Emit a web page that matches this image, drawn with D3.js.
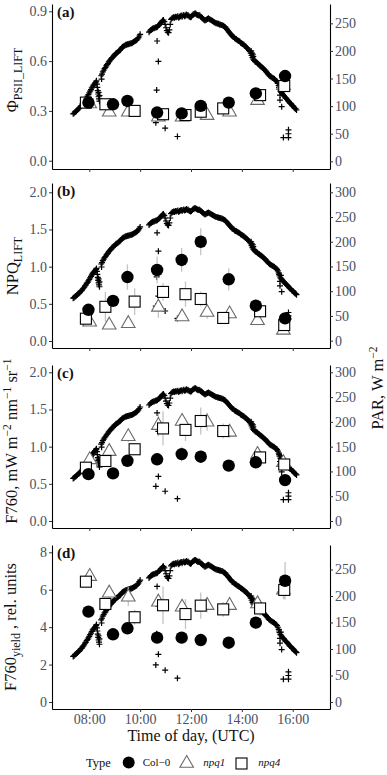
<!DOCTYPE html>
<html>
<head>
<meta charset="utf-8">
<script src="https://cdn.jsdelivr.net/npm/d3@7"></script>
<style>
  body { margin: 0; background: #fff; }
  svg { display: block; font-family: "Liberation Serif", "Times New Roman", serif; }
</style>
</head>
<body>
<div id="chart"></div>
<script>
// ---- data ----
// measurement times for each genotype (UTC)
const timesCol0 = ["07:58", "08:56", "09:30", "10:40", "11:38", "12:23", "13:29", "14:33", "15:42"];
const timesNpq1 = ["08:01", "08:47", "09:32", "10:43", "11:39", "12:38", "13:31", "14:37", "15:38"];
const timesNpq4 = ["07:52", "08:38", "09:47", "10:54", "11:47", "12:23", "13:16", "14:43", "15:40"];

// (a) PhiPSII_LIFT
const phiCol0 = [0.35, 0.34, 0.36, 0.29, 0.285, 0.33, 0.35, 0.405, 0.51];
const phiNpq1 = [0.345, 0.295, 0.295, 0.265, 0.265, 0.275, 0.295, 0.365, 0.455];
const phiNpq4 = [0.35, 0.34, 0.30, 0.28, 0.275, 0.295, 0.315, 0.395, 0.45];
const phiSdCol0 = [0.01, 0.01, 0.01, 0.02, 0.01, 0.02, 0.02, 0.02, 0.03];
const phiSdNpq1 = [0.01, 0.01, 0.01, 0.02, 0.01, 0.01, 0.01, 0.02, 0.02];
const phiSdNpq4 = [0.01, 0.01, 0.01, 0.02, 0.01, 0.01, 0.01, 0.02, 0.02];

// (b) NPQ_LIFT
const npqCol0 = [0.42, 0.54, 0.86, 0.955, 1.09, 1.335, 0.83, 0.475, 0.305];
const npqNpq1 = [0.26, 0.22, 0.24, 0.46, 0.33, 0.39, 0.37, 0.28, 0.15];
const npqNpq4 = [0.30, 0.46, 0.53, 0.66, 0.63, 0.565, 0.31, 0.40, 0.215];
const npqSdCol0 = [0.03, 0.07, 0.17, 0.18, 0.16, 0.18, 0.15, 0.08, 0.07];
const npqSdNpq1 = [0.04, 0.04, 0.04, 0.15, 0.06, 0.09, 0.07, 0.05, 0.04];
const npqSdNpq4 = [0.05, 0.20, 0.18, 0.12, 0.17, 0.10, 0.05, 0.08, 0.06];

// (c) F760
const f760Col0 = [0.63, 0.64, 0.81, 0.83, 0.90, 0.865, 0.745, 0.79, 0.55];
const f760Npq1 = [0.83, 0.94, 1.14, 1.29, 1.345, 1.335, 1.20, 0.90, 0.79];
const f760Npq4 = [0.717, 0.807, 0.965, 1.245, 1.225, 1.345, 1.21, 0.855, 0.76];
const f760SdCol0 = [0.03, 0.03, 0.04, 0.05, 0.10, 0.05, 0.05, 0.04, 0.05];
const f760SdNpq1 = [0.05, 0.05, 0.08, 0.15, 0.10, 0.12, 0.08, 0.10, 0.07];
const f760SdNpq4 = [0.04, 0.05, 0.06, 0.23, 0.15, 0.18, 0.10, 0.06, 0.06];

// (d) F760 yield
const yieldCol0 = [4.83, 3.62, 3.94, 3.44, 3.44, 3.31, 3.17, 4.24, 6.48];
const yieldNpq1 = [6.73, 5.84, 5.63, 5.36, 5.09, 5.18, 5.18, 5.27, 6.00];
const yieldNpq4 = [6.43, 5.24, 4.53, 5.17, 4.70, 5.15, 4.95, 5.00, 5.99];
const yieldSdCol0 = [0.20, 0.25, 0.25, 0.30, 0.30, 0.25, 0.25, 0.30, 1.00];
const yieldSdNpq1 = [0.30, 0.30, 0.50, 0.40, 0.40, 0.40, 0.40, 0.40, 0.50];
const yieldSdNpq4 = [0.30, 0.30, 0.40, 1.00, 0.80, 0.70, 0.40, 0.40, 0.50];

// PAR (W m-2), same record in every panel
const parReadings = [
  ["07:22",86],["07:24",87],["07:26",89],["07:28",90],["07:30",92],["07:32",93],["07:34",95],["07:36",96],
  ["07:38",98],["07:40",100],["07:42",101],["07:44",104],["07:46",106],["07:48",108],["07:50",111],["07:52",113],
  ["07:54",116],["07:56",118],["07:58",121],["08:00",124],["08:02",127],["08:04",130],["08:06",133],["08:08",136],
  ["08:10",138],["08:12",140],["08:14",142],["08:16",144],["08:17",146],
  ["08:18",140],["08:19",134],["08:20",128],["08:21",122],["08:22",117],["08:23",113],["08:24",109],["08:22",125],["08:24",119],
  ["08:28",155],["08:29",149],["08:30",158],["08:32",162],["08:34",165],["08:36",168],["08:38",170],["08:40",173],["08:42",175],
  ["08:44",177],["08:46",180],["08:48",182],["08:50",184],["08:52",186],["08:54",188],["08:56",189],["08:58",191],
  ["09:00",193],["09:02",195],["09:04",196],["09:06",197],["09:08",198],["09:10",200],["09:12",201],["09:14",203],
  ["09:16",205],["09:18",207],["09:20",208],["09:22",209],["09:24",210],["09:26",211],["09:28",211],["09:30",212],
  ["09:32",212],["09:34",213],["09:36",213],["09:38",214],["09:40",214],["09:42",215],["09:44",216],["09:46",217],
  ["09:48",218],["09:50",219],["09:52",220],["09:54",222],["09:56",224],["09:58",227],["10:00",230],
  ["10:21",234],["10:23",236],["10:25",238],["10:27",239],["10:29",240],["10:31",241],["10:33",241],["10:35",242],
  ["10:37",243],["10:39",243],["10:41",244],["10:43",246],["10:45",247],["10:47",249],["10:49",251],["10:51",253],
  ["10:53",255],["10:55",256],["10:57",253],["10:59",248],["11:01",242],["11:03",237],["11:05",234],["11:07",233],
  ["11:09",238],["11:11",248],["11:13",257],["11:15",259],["11:17",260],["11:19",261],["11:21",260],["11:23",262],
  ["11:25",261],["11:27",262],["11:29",263],["11:31",260],["11:33",262],["11:35",263],["11:37",264],["11:39",262],
  ["11:41",264],["11:43",265],["11:45",263],["11:47",264],["11:49",266],["11:51",264],["11:53",265],["11:55",263],
  ["11:57",262],["11:59",261],["12:01",262],["12:03",264],["12:05",266],["12:07",267],["12:09",268],["12:11",268],
  ["12:13",266],["12:15",265],["12:17",264],["12:19",265],["12:21",264],["12:23",262],["12:25",261],["12:27",259],
  ["12:29",258],["12:31",256],["12:33",255],["12:35",256],["12:37",257],["12:39",258],["12:41",259],["12:43",258],
  ["12:45",257],["12:47",256],["12:49",255],["12:51",254],["12:53",253],["12:55",252],["12:57",251],["12:59",250],
  ["13:01",250],["13:03",249],["13:05",249],["13:07",248],["13:09",248],["13:11",247],["13:13",247],["13:15",246],
  ["13:17",245],["13:19",244],["13:21",243],["13:23",241],["13:25",239],["13:27",237],["13:29",235],["13:31",233],
  ["13:33",231],["13:35",229],["13:37",227],["13:39",226],["13:41",225],["13:43",223],["13:45",222],["13:47",221],
  ["13:49",220],["13:51",219],["13:53",218],["13:55",217],["13:57",215],["13:59",214],["14:01",213],["14:03",212],
  ["14:05",211],["14:07",209],["14:09",208],["14:11",206],["14:13",205],["14:15",203],["14:17",201],["14:19",199],
  ["14:21",196],["14:23",192],["14:25",188],["14:27",185],["14:29",183],["14:31",181],["14:33",180],["14:35",179],
  ["14:37",178],["14:39",176],["14:41",175],["14:43",173],["14:45",172],["14:47",171],["14:49",169],["14:51",168],
  ["14:53",166],["14:55",165],["14:57",163],["14:59",161],["15:01",159],["15:03",157],["15:05",155],["15:07",154],
  ["15:09",153],["15:11",152],["15:13",151],["15:15",150],["15:17",149],["15:19",147],["15:21",146],["15:23",144],
  ["15:25",141],["15:27",137],["15:29",131],["15:31",127],["15:33",125],["15:35",123],["15:37",121],["15:39",119],
  ["15:41",117],["15:43",115],["15:45",114],["15:47",112],["15:49",110],["15:51",108],["15:53",106],["15:55",105],
  ["15:57",103],["15:59",101],["16:01",100],["16:03",98],["16:05",96],["16:07",95],["16:09",93],
  ["14:22",200],["14:24",196],["14:26",194],["14:27",190],["15:28",134],["15:30",120],["15:32",132],
  ["10:40",218],["10:43",181],["10:39",129],["10:43",90],["10:37",70],["10:59",60],["11:28",45],
  ["15:30",111],["15:34",99],["15:38",43],["15:50",57],["15:50",50],["15:50",43]
];

const xTickLabels = ["08:00", "10:00", "12:00", "14:00", "16:00"];

// ---- layout ----
const W = 387, H = 775;
const x0 = 52, x1 = 330;
const tickColor = "#4a4f63";
const parse = d3.timeParse("%H:%M");

const svg = d3.select("#chart").append("svg")
  .attr("width", W).attr("height", H);

const x = d3.scaleTime()
  .domain([parse("06:32"), parse("17:28")])
  .range([x0, x1]);

const par = parReadings.map(d => ({ t: parse(d[0]), v: d[1] }));

const panels = [
  { tag: "(a)", top: 4, bottom: 169, left: [-0.05, 0.944], right: [-13.9, 285],
    leftTicks: [0, 0.3, 0.6, 0.9], fmt: ".1f", rightTicks: [0, 50, 100, 150, 200, 250],
    col0: phiCol0, npq1: phiNpq1, npq4: phiNpq4, sd: [phiSdCol0, phiSdNpq1, phiSdNpq4],
    title: [["Φ", 0], ["PSII_LIFT", 1]], titleX: 18, titleY: 80 },
  { tag: "(b)", top: 183, bottom: 348, left: [-0.094, 2.125], right: [-14.8, 318.8],
    leftTicks: [0, 0.5, 1, 1.5, 2], fmt: ".1f", rightTicks: [0, 50, 100, 150, 200, 250, 300],
    col0: npqCol0, npq1: npqNpq1, npq4: npqNpq4, sd: [npqSdCol0, npqSdNpq1, npqSdNpq4],
    title: [["NPQ", 0], ["LIFT", 1]], titleX: 18, titleY: 266 },
  { tag: "(c)", top: 365, bottom: 528, left: [-0.094, 2.098], right: [-14.1, 314.7],
    leftTicks: [0, 0.5, 1, 1.5, 2], fmt: ".1f", rightTicks: [0, 50, 100, 150, 200, 250, 300],
    col0: f760Col0, npq1: f760Npq1, npq4: f760Npq4, sd: [f760SdCol0, f760SdNpq1, f760SdNpq4],
    title: [["F760, mW m", 0], ["−2", 2], [" nm", 0], ["−1", 2], [" sr", 0], ["−1", 2]], titleX: 16.5, titleY: 441 },
  { tag: "(d)", top: 545, bottom: 709, left: [-0.374, 8.39], right: [-13.2, 296.2],
    leftTicks: [0, 2, 4, 6, 8], fmt: "d", rightTicks: [0, 50, 100, 150, 200, 250],
    col0: yieldCol0, npq1: yieldNpq1, npq4: yieldNpq4, sd: [yieldSdCol0, yieldSdNpq1, yieldSdNpq4],
    title: [["F760", 0], ["yield", 1], [" , rel. units", 0]], titleX: 16, titleY: 627, last: true }
];

const triPath = "M0,-7.5L6.8,4.3L-6.8,4.3Z";

function styleAxis(g) {
  g.attr("font-family", null).attr("font-size", 14);
  g.select(".domain").attr("stroke", "#000").attr("stroke-width", 1.1);
  g.selectAll(".tick line").attr("stroke", "#333");
  g.selectAll(".tick text").attr("fill", tickColor);
}

function addTitle(parent, parts, tx, ty, rot) {
  const t = parent.append("text")
    .attr("transform", `translate(${tx},${ty}) rotate(${rot})`)
    .attr("text-anchor", "middle")
    .attr("font-size", 16.5)
    .attr("fill", "#111");
  let shift = 0;
  parts.forEach(([s, kind]) => {
    const target = kind === 1 ? 4 : kind === 2 ? -5.5 : 0;
    t.append("tspan")
      .attr("dy", target - shift)
      .attr("font-size", kind === 1 ? 12 : kind === 2 ? 11.5 : 16.5)
      .text(s);
    shift = target;
  });
}

panels.forEach(p => {
  const yL = d3.scaleLinear().domain(p.left).range([p.bottom, p.top]);
  const yR = d3.scaleLinear().domain(p.right).range([p.bottom, p.top]);
  const g = svg.append("g");

  // PAR crosses (right axis)
  g.append("g").selectAll("path").data(par).join("path")
    .attr("transform", d => `translate(${x(d.t)},${yR(d.v)})`)
    .attr("d", "M-3,0H3M0,-3V3")
    .attr("stroke", "#000").attr("stroke-width", 1.2).attr("fill", "none");

  const groups = [
    { key: "col0", times: timesCol0, vals: p.col0, sd: p.sd[0] },
    { key: "npq1", times: timesNpq1, vals: p.npq1, sd: p.sd[1] },
    { key: "npq4", times: timesNpq4, vals: p.npq4, sd: p.sd[2] }
  ].map(s => ({ ...s, pts: s.vals.map((v, i) => ({ t: parse(s.times[i]), v, sd: s.sd[i] })) }));

  // error bars
  groups.forEach(s => {
    g.append("g").selectAll("line").data(s.pts).join("line")
      .attr("x1", d => x(d.t)).attr("x2", d => x(d.t))
      .attr("y1", d => yL(d.v - d.sd)).attr("y2", d => yL(d.v + d.sd))
      .attr("stroke", "#c4c4c4").attr("stroke-width", 1.3);
  });

  const [gCol, gN1, gN4] = groups;
  g.append("g").selectAll("path").data(gN1.pts).join("path")
    .attr("transform", d => `translate(${x(d.t)},${yL(d.v)})`)
    .attr("d", triPath).attr("fill", "#fff").attr("stroke", "#6a6a6a").attr("stroke-width", 1.1);
  g.append("g").selectAll("rect").data(gN4.pts).join("rect")
    .attr("x", d => x(d.t) - 5.5).attr("y", d => yL(d.v) - 5.5)
    .attr("width", 11).attr("height", 11)
    .attr("fill", "#fff").attr("stroke", "#000").attr("stroke-width", 1.1);
  g.append("g").selectAll("circle").data(gCol.pts).join("circle")
    .attr("cx", d => x(d.t)).attr("cy", d => yL(d.v)).attr("r", 6.2)
    .attr("fill", "#000");

  // axes
  g.append("g").attr("transform", `translate(${x0},0)`)
    .call(d3.axisLeft(yL).tickValues(p.leftTicks).tickFormat(d3.format(p.fmt))
      .tickSize(3).tickSizeOuter(0).tickPadding(2))
    .call(styleAxis);
  g.append("g").attr("transform", `translate(${x1},0)`)
    .call(d3.axisRight(yR).tickValues(p.rightTicks).tickFormat(d3.format("d"))
      .tickSize(3).tickSizeOuter(0).tickPadding(2))
    .call(styleAxis);
  const xa = g.append("g").attr("transform", `translate(0,${p.bottom})`)
    .call(d3.axisBottom(x).tickValues(xTickLabels.map(parse))
      .tickFormat(d3.timeFormat("%H:%M"))
      .tickSize(3).tickSizeOuter(0).tickPadding(2.5))
    .call(styleAxis);
  if (!p.last) xa.selectAll(".tick text").remove();

  g.append("text").attr("x", 57).attr("y", p.top + 13)
    .attr("font-size", 15).attr("font-weight", "bold").attr("fill", "#111")
    .text(p.tag);

  addTitle(g, p.title, p.titleX, p.titleY, -90);
});

// right axis title
addTitle(svg, [["PAR, W m", 0], ["−2", 2]], 382.5, 388, -90);

// x axis title
svg.append("text").attr("x", (x0 + x1) / 2).attr("y", 741)
  .attr("text-anchor", "middle").attr("font-size", 16).attr("fill", "#111")
  .text("Time of day, (UTC)");

// legend
const lg = svg.append("g");
lg.append("text").attr("x", 86).attr("y", 766.5).attr("font-size", 12.5).attr("fill", "#111").text("Type");
lg.append("circle").attr("cx", 128.7).attr("cy", 762.5).attr("r", 6).attr("fill", "#000");
lg.append("text").attr("x", 142.7).attr("y", 766).attr("font-size", 11).attr("fill", "#111").text("Col−0");
lg.append("path").attr("transform", "translate(186.7,763)").attr("d", triPath)
  .attr("fill", "#fff").attr("stroke", "#6a6a6a").attr("stroke-width", 1.1);
lg.append("text").attr("x", 203.3).attr("y", 766).attr("font-size", 11).attr("font-style", "italic").attr("fill", "#111").text("npq1");
lg.append("rect").attr("x", 236).attr("y", 758).attr("width", 11).attr("height", 11)
  .attr("fill", "#fff").attr("stroke", "#000").attr("stroke-width", 1.1);
lg.append("text").attr("x", 258.3).attr("y", 766).attr("font-size", 11).attr("font-style", "italic").attr("fill", "#111").text("npq4");
</script>
</body>
</html>
